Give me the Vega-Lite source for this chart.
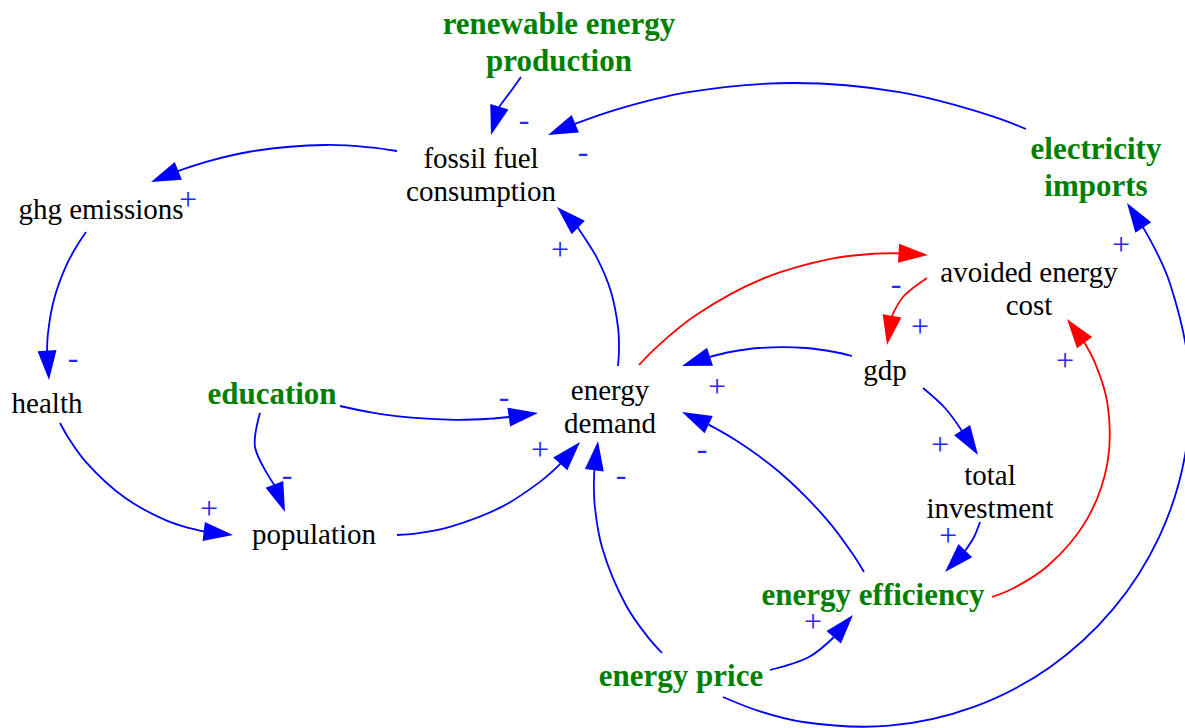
{
  "$schema": "https://vega.github.io/schema/vega-lite/v6.json",
  "width": 1185,
  "height": 728,
  "autosize": {"type": "fit", "contains": "padding"},
  "padding": 0,
  "background": "white",
  "config": {"view": {"stroke": null}},
  "datasets": {
    "edges": [
      {"edge": "renewable-fossil", "group": "causal", "seq": 0, "x": 521, "y": 77},
      {"edge": "renewable-fossil", "group": "causal", "seq": 1, "x": 511, "y": 91},
      {"edge": "renewable-fossil", "group": "causal", "seq": 2, "x": 499, "y": 107},
      {"edge": "imports-fossil", "group": "causal", "seq": 0, "x": 1026, "y": 129},
      {"edge": "imports-fossil", "group": "causal", "seq": 1, "x": 991.9, "y": 116.1},
      {"edge": "imports-fossil", "group": "causal", "seq": 2, "x": 899.5, "y": 92.2},
      {"edge": "imports-fossil", "group": "causal", "seq": 3, "x": 794, "y": 83},
      {"edge": "imports-fossil", "group": "causal", "seq": 4, "x": 688.4, "y": 92.2},
      {"edge": "imports-fossil", "group": "causal", "seq": 5, "x": 616.3, "y": 109.6},
      {"edge": "imports-fossil", "group": "causal", "seq": 6, "x": 574.2, "y": 124.2},
      {"edge": "fossil-ghg", "group": "causal", "seq": 0, "x": 397, "y": 151},
      {"edge": "fossil-ghg", "group": "causal", "seq": 1, "x": 370.2, "y": 147.4},
      {"edge": "fossil-ghg", "group": "causal", "seq": 2, "x": 325.3, "y": 145},
      {"edge": "fossil-ghg", "group": "causal", "seq": 3, "x": 250.8, "y": 151.5},
      {"edge": "fossil-ghg", "group": "causal", "seq": 4, "x": 207, "y": 161.6},
      {"edge": "fossil-ghg", "group": "causal", "seq": 5, "x": 177.8, "y": 171.1},
      {"edge": "ghg-health", "group": "causal", "seq": 0, "x": 86, "y": 232},
      {"edge": "ghg-health", "group": "causal", "seq": 1, "x": 76.3, "y": 246.8},
      {"edge": "ghg-health", "group": "causal", "seq": 2, "x": 66.2, "y": 265.6},
      {"edge": "ghg-health", "group": "causal", "seq": 3, "x": 54.1, "y": 299.1},
      {"edge": "ghg-health", "group": "causal", "seq": 4, "x": 47.9, "y": 334.1},
      {"edge": "ghg-health", "group": "causal", "seq": 5, "x": 47.1, "y": 351.2},
      {"edge": "health-population", "group": "causal", "seq": 0, "x": 60, "y": 423},
      {"edge": "health-population", "group": "causal", "seq": 1, "x": 69, "y": 438.8},
      {"edge": "health-population", "group": "causal", "seq": 2, "x": 85.8, "y": 461.9},
      {"edge": "health-population", "group": "causal", "seq": 3, "x": 125.3, "y": 498.1},
      {"edge": "health-population", "group": "causal", "seq": 4, "x": 166.1, "y": 520.3},
      {"edge": "health-population", "group": "causal", "seq": 5, "x": 189.8, "y": 528.2},
      {"edge": "health-population", "group": "causal", "seq": 6, "x": 204.1, "y": 531.5},
      {"edge": "education-population", "group": "causal", "seq": 0, "x": 260, "y": 413},
      {"edge": "education-population", "group": "causal", "seq": 1, "x": 255, "y": 447},
      {"edge": "education-population", "group": "causal", "seq": 2, "x": 275, "y": 486},
      {"edge": "education-demand", "group": "causal", "seq": 0, "x": 340, "y": 406},
      {"edge": "education-demand", "group": "causal", "seq": 1, "x": 370.7, "y": 412.4},
      {"edge": "education-demand", "group": "causal", "seq": 2, "x": 396.1, "y": 416.2},
      {"edge": "education-demand", "group": "causal", "seq": 3, "x": 456, "y": 419.9},
      {"edge": "education-demand", "group": "causal", "seq": 4, "x": 490.3, "y": 418.7},
      {"edge": "education-demand", "group": "causal", "seq": 5, "x": 509.1, "y": 417},
      {"edge": "population-demand", "group": "causal", "seq": 0, "x": 397, "y": 535},
      {"edge": "population-demand", "group": "causal", "seq": 1, "x": 417, "y": 533.4},
      {"edge": "population-demand", "group": "causal", "seq": 2, "x": 450.7, "y": 526.6},
      {"edge": "population-demand", "group": "causal", "seq": 3, "x": 502.6, "y": 506.4},
      {"edge": "population-demand", "group": "causal", "seq": 4, "x": 538.6, "y": 482.9},
      {"edge": "population-demand", "group": "causal", "seq": 5, "x": 551.7, "y": 472},
      {"edge": "population-demand", "group": "causal", "seq": 6, "x": 560.8, "y": 463.4},
      {"edge": "price-demand", "group": "causal", "seq": 0, "x": 662, "y": 653},
      {"edge": "price-demand", "group": "causal", "seq": 1, "x": 647.5, "y": 636.6},
      {"edge": "price-demand", "group": "causal", "seq": 2, "x": 626.1, "y": 605.5},
      {"edge": "price-demand", "group": "causal", "seq": 3, "x": 602.1, "y": 547.5},
      {"edge": "price-demand", "group": "causal", "seq": 4, "x": 594.8, "y": 506.3},
      {"edge": "price-demand", "group": "causal", "seq": 5, "x": 593.9, "y": 485.3},
      {"edge": "price-demand", "group": "causal", "seq": 6, "x": 594.4, "y": 469.8},
      {"edge": "demand-fossil", "group": "causal", "seq": 0, "x": 618, "y": 366},
      {"edge": "demand-fossil", "group": "causal", "seq": 1, "x": 619, "y": 349.4},
      {"edge": "demand-fossil", "group": "causal", "seq": 2, "x": 618.3, "y": 329.8},
      {"edge": "demand-fossil", "group": "causal", "seq": 3, "x": 610.9, "y": 291.4},
      {"edge": "demand-fossil", "group": "causal", "seq": 4, "x": 597.2, "y": 258.3},
      {"edge": "demand-fossil", "group": "causal", "seq": 5, "x": 587, "y": 241.5},
      {"edge": "demand-fossil", "group": "causal", "seq": 6, "x": 577, "y": 226.5},
      {"edge": "demand-avoided", "group": "avoided cost", "seq": 0, "x": 639, "y": 365},
      {"edge": "demand-avoided", "group": "avoided cost", "seq": 1, "x": 658.5, "y": 345.4},
      {"edge": "demand-avoided", "group": "avoided cost", "seq": 2, "x": 695.7, "y": 315.3},
      {"edge": "demand-avoided", "group": "avoided cost", "seq": 3, "x": 764.1, "y": 278.2},
      {"edge": "demand-avoided", "group": "avoided cost", "seq": 4, "x": 833.1, "y": 258.4},
      {"edge": "demand-avoided", "group": "avoided cost", "seq": 5, "x": 874.7, "y": 253.7},
      {"edge": "demand-avoided", "group": "avoided cost", "seq": 6, "x": 899.3, "y": 253.3},
      {"edge": "avoided-gdp", "group": "avoided cost", "seq": 0, "x": 927, "y": 278},
      {"edge": "avoided-gdp", "group": "avoided cost", "seq": 1, "x": 903, "y": 297},
      {"edge": "avoided-gdp", "group": "avoided cost", "seq": 2, "x": 892, "y": 316},
      {"edge": "gdp-demand", "group": "causal", "seq": 0, "x": 852, "y": 356},
      {"edge": "gdp-demand", "group": "causal", "seq": 1, "x": 834.6, "y": 352},
      {"edge": "gdp-demand", "group": "causal", "seq": 2, "x": 806.2, "y": 348},
      {"edge": "gdp-demand", "group": "causal", "seq": 3, "x": 758.6, "y": 348},
      {"edge": "gdp-demand", "group": "causal", "seq": 4, "x": 730.2, "y": 352},
      {"edge": "gdp-demand", "group": "causal", "seq": 5, "x": 709.8, "y": 356.8},
      {"edge": "gdp-investment", "group": "causal", "seq": 0, "x": 923, "y": 388},
      {"edge": "gdp-investment", "group": "causal", "seq": 1, "x": 945, "y": 408},
      {"edge": "gdp-investment", "group": "causal", "seq": 2, "x": 962, "y": 431},
      {"edge": "investment-efficiency", "group": "causal", "seq": 0, "x": 980, "y": 522},
      {"edge": "investment-efficiency", "group": "causal", "seq": 1, "x": 974, "y": 537},
      {"edge": "investment-efficiency", "group": "causal", "seq": 2, "x": 965, "y": 551},
      {"edge": "efficiency-demand", "group": "causal", "seq": 0, "x": 864, "y": 572},
      {"edge": "efficiency-demand", "group": "causal", "seq": 1, "x": 851.4, "y": 552.1},
      {"edge": "efficiency-demand", "group": "causal", "seq": 2, "x": 826.9, "y": 519.6},
      {"edge": "efficiency-demand", "group": "causal", "seq": 3, "x": 779, "y": 471.7},
      {"edge": "efficiency-demand", "group": "causal", "seq": 4, "x": 735.1, "y": 439.8},
      {"edge": "efficiency-demand", "group": "causal", "seq": 5, "x": 708.6, "y": 424.6},
      {"edge": "efficiency-avoided", "group": "avoided cost", "seq": 0, "x": 992, "y": 597},
      {"edge": "efficiency-avoided", "group": "avoided cost", "seq": 1, "x": 1012.9, "y": 588.5},
      {"edge": "efficiency-avoided", "group": "avoided cost", "seq": 2, "x": 1048.2, "y": 565.5},
      {"edge": "efficiency-avoided", "group": "avoided cost", "seq": 3, "x": 1086.8, "y": 519.6},
      {"edge": "efficiency-avoided", "group": "avoided cost", "seq": 4, "x": 1107.4, "y": 463.1},
      {"edge": "efficiency-avoided", "group": "avoided cost", "seq": 5, "x": 1107.4, "y": 403.1},
      {"edge": "efficiency-avoided", "group": "avoided cost", "seq": 6, "x": 1095, "y": 362.8},
      {"edge": "efficiency-avoided", "group": "avoided cost", "seq": 7, "x": 1084.2, "y": 342.2},
      {"edge": "price-efficiency", "group": "causal", "seq": 0, "x": 770, "y": 670},
      {"edge": "price-efficiency", "group": "causal", "seq": 1, "x": 809, "y": 657},
      {"edge": "price-efficiency", "group": "causal", "seq": 2, "x": 834, "y": 637},
      {"edge": "price-imports", "group": "causal", "seq": 0, "x": 723, "y": 697},
      {"edge": "price-imports", "group": "causal", "seq": 1, "x": 758.5, "y": 710.9},
      {"edge": "price-imports", "group": "causal", "seq": 2, "x": 803.1, "y": 722},
      {"edge": "price-imports", "group": "causal", "seq": 3, "x": 889.2, "y": 725.7},
      {"edge": "price-imports", "group": "causal", "seq": 4, "x": 973.2, "y": 707.1},
      {"edge": "price-imports", "group": "causal", "seq": 5, "x": 1049.6, "y": 667.4},
      {"edge": "price-imports", "group": "causal", "seq": 6, "x": 1113, "y": 609.2},
      {"edge": "price-imports", "group": "causal", "seq": 7, "x": 1159.3, "y": 536.6},
      {"edge": "price-imports", "group": "causal", "seq": 8, "x": 1185.2, "y": 454.5},
      {"edge": "price-imports", "group": "causal", "seq": 9, "x": 1188.9, "y": 368.4},
      {"edge": "price-imports", "group": "causal", "seq": 10, "x": 1170.3, "y": 284.4},
      {"edge": "price-imports", "group": "causal", "seq": 11, "x": 1156.8, "y": 252.6},
      {"edge": "price-imports", "group": "causal", "seq": 12, "x": 1142.8, "y": 226.9}
    ],
    "arrows": [
      {"edge": "renewable-fossil", "group": "causal", "x": 491, "y": 135, "angle": -163.5},
      {"edge": "imports-fossil", "group": "causal", "x": 548, "y": 135, "angle": -112.4},
      {"edge": "fossil-ghg", "group": "causal", "x": 151, "y": 182, "angle": -112.1},
      {"edge": "ghg-health", "group": "causal", "x": 49, "y": 380, "angle": 176.2},
      {"edge": "health-population", "group": "causal", "x": 233, "y": 535, "angle": 96.9},
      {"edge": "education-population", "group": "causal", "x": 285, "y": 512, "angle": 159},
      {"edge": "education-demand", "group": "causal", "x": 538, "y": 413, "angle": 82.1},
      {"edge": "population-demand", "group": "causal", "x": 580, "y": 442, "angle": 41.9},
      {"edge": "price-demand", "group": "causal", "x": 598, "y": 441, "angle": 7.1},
      {"edge": "demand-fossil", "group": "causal", "x": 557, "y": 207, "angle": -46},
      {"edge": "demand-avoided", "group": "avoided cost", "x": 928, "y": 255, "angle": 93.4},
      {"edge": "avoided-gdp", "group": "avoided cost", "x": 887, "y": 345, "angle": -170.2},
      {"edge": "gdp-demand", "group": "causal", "x": 682, "y": 366, "angle": -108.3},
      {"edge": "gdp-investment", "group": "causal", "x": 978, "y": 455, "angle": 147.4},
      {"edge": "investment-efficiency", "group": "causal", "x": 945, "y": 572, "angle": -136.4},
      {"edge": "efficiency-demand", "group": "causal", "x": 682, "y": 412, "angle": -64.7},
      {"edge": "efficiency-avoided", "group": "avoided cost", "x": 1067, "y": 319, "angle": -36.6},
      {"edge": "price-efficiency", "group": "causal", "x": 853, "y": 615, "angle": 40.8},
      {"edge": "price-imports", "group": "causal", "x": 1127, "y": 203, "angle": -33.5}
    ],
    "signs": [
      {"edge": "renewable-fossil", "sign": "-", "x": 524, "y": 120},
      {"edge": "imports-fossil", "sign": "-", "x": 583, "y": 152},
      {"edge": "fossil-ghg", "sign": "+", "x": 188, "y": 200},
      {"edge": "ghg-health", "sign": "-", "x": 73, "y": 358},
      {"edge": "health-population", "sign": "+", "x": 209, "y": 509},
      {"edge": "education-population", "sign": "-", "x": 287, "y": 475},
      {"edge": "education-demand", "sign": "-", "x": 504, "y": 397},
      {"edge": "population-demand", "sign": "+", "x": 540, "y": 450},
      {"edge": "price-demand", "sign": "-", "x": 621, "y": 475},
      {"edge": "demand-fossil", "sign": "+", "x": 560, "y": 250},
      {"edge": "demand-avoided", "sign": "-", "x": 896, "y": 284},
      {"edge": "avoided-gdp", "sign": "+", "x": 920, "y": 327},
      {"edge": "gdp-demand", "sign": "+", "x": 717, "y": 387},
      {"edge": "gdp-investment", "sign": "+", "x": 940, "y": 445},
      {"edge": "investment-efficiency", "sign": "+", "x": 948, "y": 536},
      {"edge": "efficiency-demand", "sign": "-", "x": 702, "y": 449},
      {"edge": "efficiency-avoided", "sign": "+", "x": 1065, "y": 361},
      {"edge": "price-efficiency", "sign": "+", "x": 813, "y": 622},
      {"edge": "price-imports", "sign": "+", "x": 1121, "y": 245}
    ],
    "nodes": [
      {"label": "renewable energy\nproduction", "kind": "exogenous", "x": 559, "y": 25.4},
      {"label": "fossil fuel\nconsumption", "kind": "variable", "x": 481, "y": 159.3},
      {"label": "ghg emissions", "kind": "variable", "x": 101, "y": 210.3},
      {"label": "health", "kind": "variable", "x": 47, "y": 404.3},
      {"label": "education", "kind": "exogenous", "x": 272, "y": 395.4},
      {"label": "population", "kind": "variable", "x": 314, "y": 535},
      {"label": "energy\ndemand", "kind": "variable", "x": 610, "y": 391},
      {"label": "gdp", "kind": "variable", "x": 885, "y": 371},
      {"label": "avoided energy\ncost", "kind": "variable", "x": 1029, "y": 272.6},
      {"label": "electricity\nimports", "kind": "exogenous", "x": 1096, "y": 150.4},
      {"label": "total\ninvestment", "kind": "variable", "x": 990, "y": 476},
      {"label": "energy efficiency", "kind": "exogenous", "x": 873, "y": 596.4},
      {"label": "energy price", "kind": "exogenous", "x": 681, "y": 677}
    ]
  },
  "encoding": {
    "x": {"field": "x", "type": "quantitative", "scale": {"domain": [0, 1185], "nice": false, "zero": false}, "axis": null},
    "y": {"field": "y", "type": "quantitative", "scale": {"domain": [0, 728], "nice": false, "zero": false, "reverse": true}, "axis": null}
  },
  "layer": [
    {
      "data": {"name": "edges"},
      "mark": {"type": "line", "interpolate": "catmull-rom", "strokeWidth": 1.8, "strokeCap": "butt", "clip": true},
      "encoding": {
        "detail": {"field": "edge", "type": "nominal"},
        "order": {"field": "seq", "type": "quantitative"},
        "color": {"field": "group", "type": "nominal", "scale": {"domain": ["causal", "avoided cost"], "range": ["#0000ff", "#ff0000"]}, "legend": null}
      }
    },
    {
      "data": {"name": "arrows"},
      "mark": {"type": "point", "shape": "M0,0L0.95,2.95L-0.95,2.95Z", "size": 400, "filled": true, "opacity": 1, "strokeWidth": 0},
      "encoding": {
        "angle": {"field": "angle", "type": "quantitative", "scale": null},
        "color": {"field": "group", "type": "nominal", "legend": null}
      }
    },
    {
      "data": {"name": "signs"},
      "mark": {"type": "text", "font": "Liberation Serif", "fontSize": 32, "color": "#2525ff", "align": "center", "baseline": "middle"},
      "encoding": {"text": {"field": "sign", "type": "nominal"}}
    },
    {
      "data": {"name": "nodes"},
      "transform": [{"filter": "datum.kind === 'variable'"}],
      "mark": {"type": "text", "font": "Liberation Serif", "fontSize": 29, "lineBreak": "\n", "lineHeight": 33, "color": "#000000", "align": "center", "baseline": "middle"},
      "encoding": {"text": {"field": "label", "type": "nominal"}}
    },
    {
      "data": {"name": "nodes"},
      "transform": [{"filter": "datum.kind === 'exogenous'"}],
      "mark": {"type": "text", "font": "Liberation Serif", "fontSize": 31, "fontWeight": "bold", "lineBreak": "\n", "lineHeight": 37, "color": "#008000", "align": "center", "baseline": "middle"},
      "encoding": {"text": {"field": "label", "type": "nominal"}}
    }
  ]
}
